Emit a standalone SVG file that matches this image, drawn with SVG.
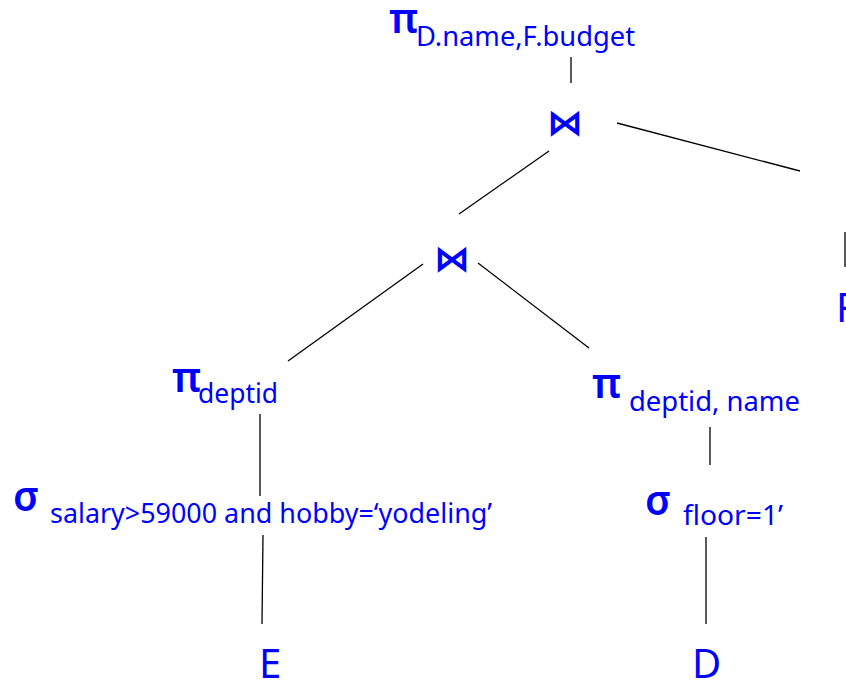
<svg xmlns="http://www.w3.org/2000/svg" width="846" height="680" viewBox="0 0 846 680">
  <style>
    .op { font-family: "Noto Sans", "DejaVu Sans", sans-serif; font-size: 41px; font-weight: 600; fill: #0000ff; }
    .sub { font-family: "Noto Sans", "DejaVu Sans", sans-serif; font-size: 27px; fill: #0000ff; }
    .join { font-family: "DejaVu Sans", sans-serif; font-size: 36px; font-weight: bold; fill: #0000ff; }
    .rel { font-family: "Noto Sans", "DejaVu Sans", sans-serif; font-size: 40px; fill: #0000ff; }
    .edge { stroke: #000; stroke-width: 1.3; fill: none; }
  </style>
  <rect width="846" height="680" fill="#fff"/>

  <!-- tree edges -->
  <g id="connectors">
    <line class="edge" x1="571" y1="57" x2="571" y2="83"/>
    <line class="edge" x1="617" y1="123" x2="800" y2="171"/>
    <line class="edge" x1="549" y1="151" x2="459" y2="214"/>
    <line class="edge" x1="423" y1="264" x2="288" y2="361"/>
    <line class="edge" x1="478" y1="263" x2="589" y2="348"/>
    <line class="edge" x1="845" y1="232" x2="845" y2="267"/>
    <line class="edge" x1="260" y1="414" x2="260" y2="496"/>
    <line class="edge" x1="263" y1="535" x2="262" y2="624"/>
    <line class="edge" x1="710" y1="427" x2="710" y2="465"/>
    <line class="edge" x1="706" y1="537" x2="706" y2="624"/>
  </g>

  <!-- projection onto D.name, F.budget -->
  <g id="proj-top">
    <text class="op" x="389" y="33">π</text>
    <text class="sub" x="416" y="46" textLength="219" lengthAdjust="spacingAndGlyphs">D.name,F.budget</text>
  </g>

  <!-- upper join -->
  <g id="join-top">
    <text class="join" x="565" y="135" text-anchor="middle">⋈</text>
  </g>

  <!-- lower join -->
  <g id="join-low">
    <text class="join" x="452" y="271" text-anchor="middle">⋈</text>
  </g>

  <!-- relation F -->
  <g id="rel-F">
    <text class="rel" x="836" y="322">F</text>
  </g>

  <!-- projection onto deptid -->
  <g id="proj-deptid">
    <text class="op" x="172" y="392">π</text>
    <text class="sub" x="198" y="403" textLength="80" lengthAdjust="spacingAndGlyphs">deptid</text>
  </g>

  <!-- selection on E -->
  <g id="sel-E">
    <text class="op" x="13" y="511">σ</text>
    <text class="sub" x="50" y="523" textLength="442" lengthAdjust="spacingAndGlyphs">salary&gt;59000 and hobby=‘yodeling’</text>
  </g>

  <!-- relation E -->
  <g id="rel-E">
    <text class="rel" x="259" y="678">E</text>
  </g>

  <!-- projection onto deptid, name -->
  <g id="proj-deptid-name">
    <text class="op" x="592" y="398">π</text>
    <text class="sub" x="629" y="411" textLength="171" lengthAdjust="spacingAndGlyphs">deptid, name</text>
  </g>

  <!-- selection on D -->
  <g id="sel-D">
    <text class="op" x="645" y="515">σ</text>
    <text class="sub" x="683" y="525" textLength="100" lengthAdjust="spacingAndGlyphs">floor=1’</text>
  </g>

  <!-- relation D -->
  <g id="rel-D">
    <text class="rel" x="692" y="678">D</text>
  </g>
</svg>
